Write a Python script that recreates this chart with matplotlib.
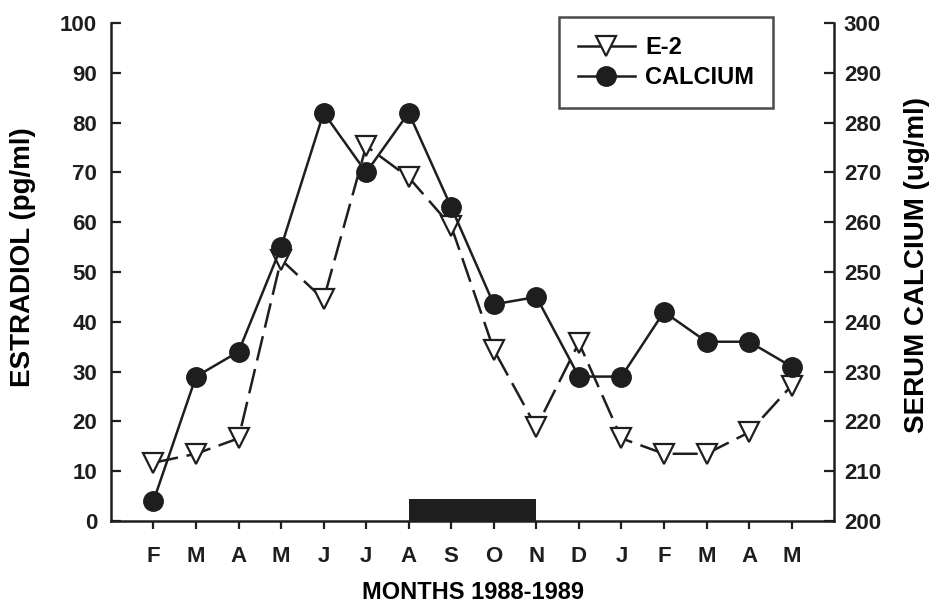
import numpy as np
import matplotlib
matplotlib.use("Agg")
import matplotlib.pyplot as plt
from matplotlib.lines import Line2D

plt.rcParams['font.family'] = ['Liberation Sans', 'DejaVu Sans']
plt.rcParams['font.weight'] = 'bold'

# data
months = ['F', 'M', 'A', 'M', 'J', 'J', 'A', 'S', 'O', 'N', 'D', 'J', 'F', 'M', 'A', 'M']
estradiol = [11.7, 13.5, 16.6, 52.5, 44.5, 75.3, 69, 59.2, 34.4, 18.8, 35.8, 16.6, 13.5, 13.5, 17.8, 27.2]
calcium = [204, 229, 234, 255, 282, 270, 282, 263, 243.5, 245, 229, 229, 242, 236, 236, 231]
bar_start, bar_end, bar_height = 6, 9, 4.5   # black bar A..N

x = np.arange(len(months))
ink = '#1e1e1e'

fig = plt.figure(figsize=(9.32, 6.07), dpi=100)
ax = fig.add_axes([0.119, 0.1417, 0.776, 0.8203])
ax2 = ax.twinx()

lw = 1.8
ax.bar(bar_start, bar_height, width=bar_end - bar_start, align='edge', color=ink, zorder=1)
ax.plot(x, estradiol, color=ink, lw=lw, linestyle=(0, (10, 3.5)),
        marker='v', markersize=15, markerfacecolor='white', markeredgecolor=ink,
        markeredgewidth=1.6, zorder=3)
ax2.plot(x, calcium, color=ink, lw=lw, marker='o', markersize=14,
         markerfacecolor=ink, markeredgecolor=ink, zorder=3)

ax.set_xlim(-1, 16)
ax.set_ylim(0, 100)
ax2.set_ylim(200, 300)
ax.set_yticks(np.arange(0, 101, 10))
ax2.set_yticks(np.arange(200, 301, 10))
ax.set_xticks(x)
ax.set_xticklabels(months)

for a in (ax, ax2):
    a.spines['top'].set_visible(False)
    for s in ('left', 'right', 'bottom'):
        a.spines[s].set_linewidth(1.8)
        a.spines[s].set_color(ink)
ax.spines['right'].set_visible(False)
ax2.spines['left'].set_visible(False)
ax2.spines['bottom'].set_visible(False)

ax.tick_params(axis='y', direction='in', length=7, width=1.6, pad=10, labelsize=16, colors=ink)
ax.tick_params(axis='x', direction='out', length=6, width=1.6, pad=12, labelsize=16, colors=ink)
ax2.tick_params(axis='y', direction='in', length=7, width=1.6, pad=7, labelsize=16, colors=ink)

ax.set_ylabel('ESTRADIOL (pg/ml)', fontsize=20, fontweight='bold')
ax.yaxis.set_label_coords(-0.104, 0.53)
ax2.set_ylabel('SERUM CALCIUM (ug/ml)', fontsize=20, fontweight='bold', rotation=90)
ax2.yaxis.set_label_coords(1.097, 0.515)
ax.set_xlabel('MONTHS 1988-1989', fontsize=17, fontweight='bold', labelpad=10)

handles = [
    Line2D([], [], color=ink, lw=lw, marker='v', markersize=15,
           markerfacecolor='white', markeredgecolor=ink, markeredgewidth=1.6),
    Line2D([], [], color=ink, lw=lw, marker='o', markersize=14,
           markerfacecolor=ink, markeredgecolor=ink),
]
leg = fig.legend(handles, ['E-2', 'CALCIUM'], loc='upper left',
                 bbox_to_anchor=(559 / 932, 1 - 17 / 607), fontsize=17,
                 frameon=True, fancybox=False, edgecolor=ink,
                 handlelength=2.4, borderpad=0.8, labelspacing=0.3, handletextpad=0.45,
                 borderaxespad=0)
leg.get_frame().set_linewidth(1.8)

fig.savefig('out.png', dpi=100)
